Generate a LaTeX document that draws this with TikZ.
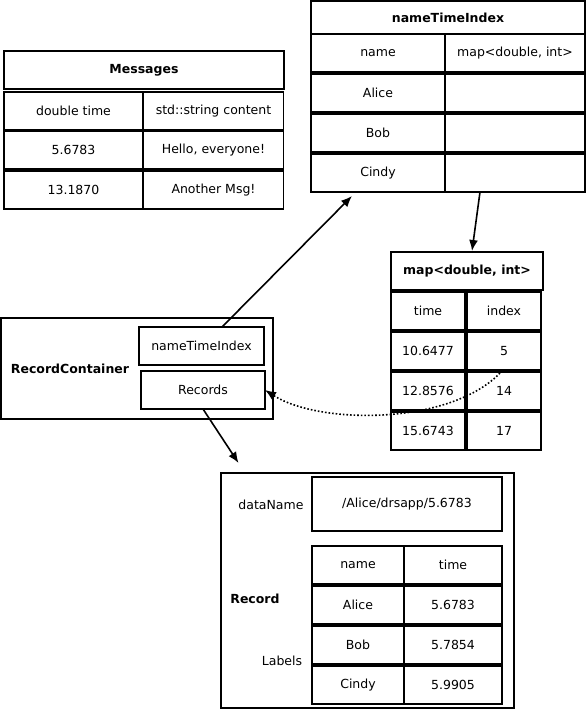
\documentclass[tikz,border=0pt]{standalone}
\usepackage{fontspec}
\setmainfont{DejaVu Sans}
\usetikzlibrary{calc,arrows.meta}

\begin{document}
\begin{tikzpicture}[x=1pt,y=-1pt,
        font=\fontsize{12.5}{14}\selectfont,
        cell/.style={draw,line width=1.6pt,inner sep=0pt,outer sep=0pt,minimum height=38},
        title/.style={cell,font=\fontsize{12.5}{14}\selectfont\bfseries},
        arr/.style={line width=1.6pt,-{Latex[length=11pt,width=9pt]}}]
    \useasboundingbox (0,0) rectangle (586,710);

    % Messages table:
    \node[title,minimum width=280] (msgT) at (144,70) {Messages};
    \foreach \r/\y/\a/\b in {1/111/double time/std::string content,
                             2/150/5.6783/{Hello, everyone!},
                             3/190/13.1870/Another Msg!}{%
        \node[cell,minimum width=139] (msgA\r) at (73.5,\y) {\a};
        \node[cell,minimum width=140] (msgB\r) at (213.5,\y) {\b};
    }

    % nameTimeIndex table:
    \node[title,minimum width=274,minimum height=33] (ntiT) at (448,17.5) {nameTimeIndex};
    \foreach \r/\y/\a/\b in {1/53/name/{map<double, int>},
                             2/93/Alice/{},
                             3/133/Bob/{},
                             4/173/Cindy/{}}{%
        \node[cell,minimum width=134] (ntiA\r) at (378,\y) {\a};
        \node[cell,minimum width=140] (ntiB\r) at (515,\y) {\b};
    }

    % map<double, int> table:
    \node[title,minimum width=152] (mapT) at (467,271) {map<double, int>};
    \foreach \r/\y/\a/\b in {1/311/time/index,
                             2/351/10.6477/5,
                             3/391/12.8576/14,
                             4/431/15.6743/17}{%
        \node[cell,minimum width=74] (mapA\r) at (428,\y) {\a};
        \node[cell,minimum width=74] (mapB\r) at (504,\y) {\b};
    }

    % RecordContainer:
    \node[cell,minimum width=272,minimum height=101] (rc) at (137,368.5) {};
    \node[font=\fontsize{12.5}{14}\selectfont\bfseries] (rcL) at (70,369) {RecordContainer};
    \node[cell,minimum width=125] (rcNTI) at (201.5,346) {nameTimeIndex};
    \node[cell,minimum width=124] (rcRec) at (203,390) {Records};

    % Record:
    \node[cell,minimum width=293,minimum height=235] (rec) at (367.5,590.5) {};
    \node (recDN) at (271,505) {dataName};
    \node[cell,minimum width=190,minimum height=54] (recDNv) at (407,504) {/Alice/drsapp/5.6783};
    \foreach \r/\y/\a/\b in {1/565/name/time,
                             2/605/Alice/5.6783,
                             3/645/Bob/5.7854,
                             4/685/Cindy/5.9905}{%
        \node[cell,minimum width=92] (recA\r) at (358,\y) {\a};
        \node[cell,minimum width=98] (recB\r) at (453,\y) {\b};
    }
    \node[font=\fontsize{12.5}{14}\selectfont\bfseries] (recL) at (255,599) {Record};
    \node (recLab) at (282,661) {Labels};

    % Connectors:
    \draw[arr] ($(rcNTI.north)+(20.5,0)$) -- ($(ntiA4.south)+(-26,4)$);
    \draw[arr] ($(ntiB4.south)+(-35,0)$) -- ($(mapT.north)+(5,-1)$);
    \draw[arr] (rcRec.south) -- ($(rec.north)+(-129,-10)$);
    \draw[arr,dotted] ($(mapB2.south)+(-4,3)$) .. controls (450,425) and (320,425) .. (rcRec.east);
\end{tikzpicture}
\end{document}
